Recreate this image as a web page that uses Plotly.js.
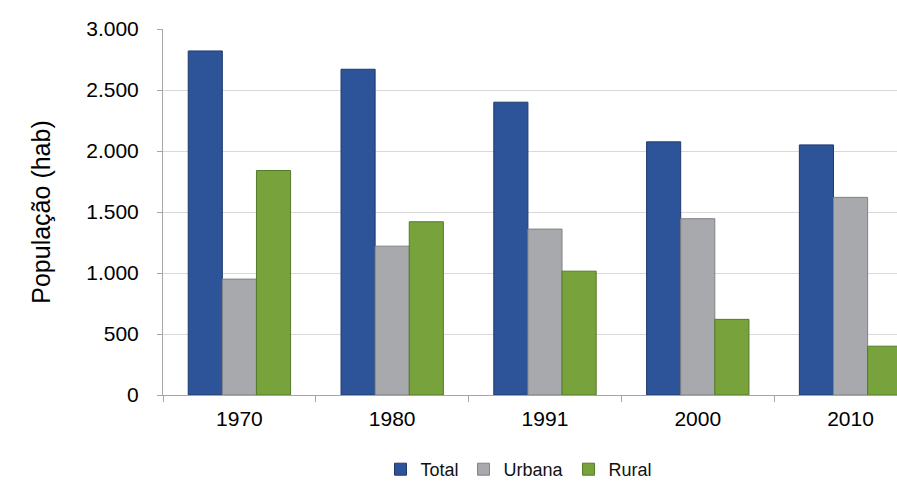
<!DOCTYPE html>
<html>
<head>
<meta charset="utf-8">
<script src="https://cdn.plot.ly/plotly-3.0.1.min.js"></script>
<style>
html,body{margin:0;padding:0;background:#fff;overflow:hidden;}
#chart{width:897px;height:488px;}
</style>
</head>
<body>
<div id="chart"></div>
<script>
const years = ["1970", "1980", "1991", "2000", "2010"];
const total = [2820, 2670, 2400, 2075, 2050];
const urbana = [950, 1220, 1360, 1445, 1620];
const rural = [1840, 1420, 1015, 620, 400];
const yTicks = [0, 500, 1000, 1500, 2000, 2500, 3000];

const FONT = "Liberation Sans, Arial, sans-serif";

function barTrace(name, values, color, edge) {
  return {
    type: "bar",
    name: name,
    x: years,
    y: values,
    marker: {color: color, line: {color: edge, width: 1}},
    hoverinfo: "x+y+name"
  };
}

const data = [
  barTrace("Total", total, "#2D5498", "#1E3A6E"),
  barTrace("Urbana", urbana, "#A7A9AD", "#808286"),
  barTrace("Rural", rural, "#77A23C", "#557A28")
];

const layout = {
  width: 897,
  height: 488,
  margin: {l: 163, r: 0, t: 29, b: 93, pad: 0},
  paper_bgcolor: "#ffffff",
  plot_bgcolor: "#ffffff",
  separators: ",.",
  barmode: "group",
  bargap: 0.33,
  bargroupgap: 0,
  font: {family: FONT, color: "#000000", size: 21},
  showlegend: true,
  legend: {
    orientation: "h",
    x: 0.485,
    xanchor: "center",
    y: -0.205,
    yanchor: "middle",
    font: {family: FONT, size: 18, color: "#111111"},
    itemwidth: 30,
    traceorder: "normal"
  },
  xaxis: {
    type: "category",
    range: [-0.5, 4.304],
    showgrid: false,
    showline: true,
    linecolor: "#A6A6A6",
    linewidth: 1,
    ticks: "outside",
    tickson: "boundaries",
    ticklen: 6,
    tickcolor: "#A6A6A6",
    ticklabelstandoff: 5,
    tickfont: {family: FONT, size: 21, color: "#000000"},
    zeroline: false,
    fixedrange: true
  },
  yaxis: {
    range: [0, 3000],
    tickvals: yTicks,
    tickformat: ",",
    showgrid: true,
    gridcolor: "#D9D9D9",
    gridwidth: 1,
    showline: true,
    linecolor: "#A6A6A6",
    linewidth: 1,
    ticks: "outside",
    ticklen: 5,
    tickcolor: "#A6A6A6",
    ticklabelstandoff: 14,
    tickfont: {family: FONT, size: 21, color: "#000000"},
    zeroline: false,
    automargin: true,
    title: {text: "População (hab)", standoff: 28, font: {family: FONT, size: 25, color: "#000000"}},
    fixedrange: true
  }
};

Plotly.newPlot("chart", data, layout, {displayModeBar: false});
</script>
</body>
</html>
